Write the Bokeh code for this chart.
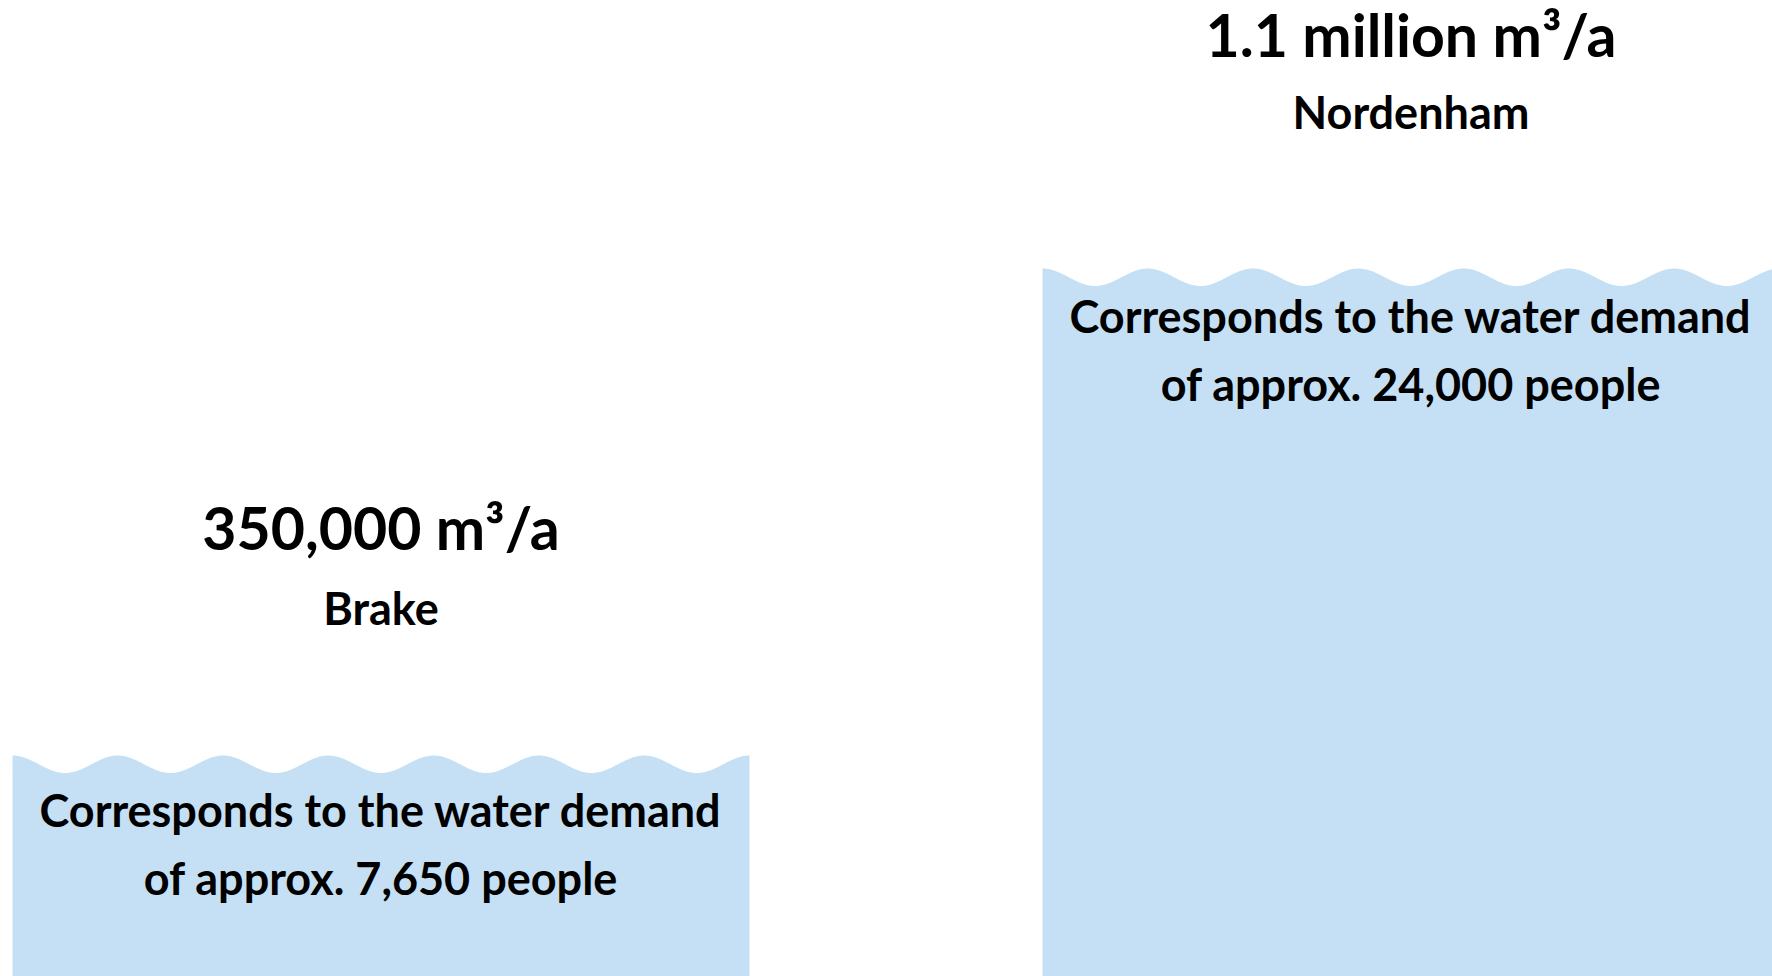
import numpy as np
from bokeh.plotting import figure
from bokeh.models import Range1d, ColumnDataSource
from bokeh.core.properties import value
from bokeh.embed import file_html
from bokeh.resources import INLINE

# ---- data ----
sites = ["Brake", "Nordenham"]
volumes = [350_000, 1_100_000]  # m³/a
volume_labels = ["350,000 m³/a", "1.1 million m³/a"]
demand_line1 = ["Corresponds to the water demand", "Corresponds to the water demand"]
demand_line2 = ["of approx. 7,650 people", "of approx. 24,000 people"]
positions = [0, 1]

# ---- layout / style ----
W, H = 1772, 976
PX_X = 1030.0               # pixels per category step
BAR_W = 737.0 / PX_X        # bar width in category units
X0 = -380.5 / PX_X
Y_START, Y_END = 9656, 1512740
K = H / (Y_END - Y_START)   # pixels per m³


def px(d):
    return d / K


WAVE_AMP = 17.5   # px, crest to trough
WAVES = 7
FILL = "#C5E0F4"
FONT = value("Lato")

# text offsets in screen pixels relative to the bar top (up = positive)
OFF_VOL = [228, 234]
OFF_SITE = [148, 157]
OFF_L1 = [-54, -47]
OFF_L2 = [-122, -115]

p = figure(width=W, height=H, x_range=Range1d(X0, X0 + W / PX_X),
           y_range=Range1d(Y_START, Y_END), output_backend="svg",
           toolbar_location=None, min_border=0)
p.axis.visible = False
p.grid.visible = False
p.outline_line_color = None
p.background_fill_color = "white"
p.border_fill_color = "white"

xs, ys = [], []
t = np.linspace(0, 1, 600)
for xc, v in zip(positions, volumes):
    wx = xc - BAR_W / 2 + t * BAR_W
    wy = v - px(WAVE_AMP) * (1 - np.cos(2 * np.pi * WAVES * t)) / 2
    xs.append(list(wx) + [xc + BAR_W / 2, xc - BAR_W / 2])
    ys.append(list(wy) + [0, 0])
p.patches(xs, ys, fill_color=FILL, line_color=None)

src = ColumnDataSource(dict(
    x=positions,
    site=sites,
    vol=volume_labels,
    l1=demand_line1,
    l2=demand_line2,
    y_vol=[v + px(o) for v, o in zip(volumes, OFF_VOL)],
    y_site=[v + px(o) for v, o in zip(volumes, OFF_SITE)],
    y_l1=[v + px(o) for v, o in zip(volumes, OFF_L1)],
    y_l2=[v + px(o) for v, o in zip(volumes, OFF_L2)],
))

common = dict(text_font=FONT, text_font_style="bold", text_align="center",
              text_baseline="alphabetic", text_color="black", source=src)
p.text(x="x", y="y_vol", text="vol", text_font_size="59px", **common)
p.text(x="x", y="y_site", text="site", text_font_size="45px", **common)
p.text(x="x", y="y_l1", text="l1", text_font_size="45px", **common)
p.text(x="x", y="y_l2", text="l2", text_font_size="45px", **common)

open("out.html", "w").write(file_html(p, INLINE))
